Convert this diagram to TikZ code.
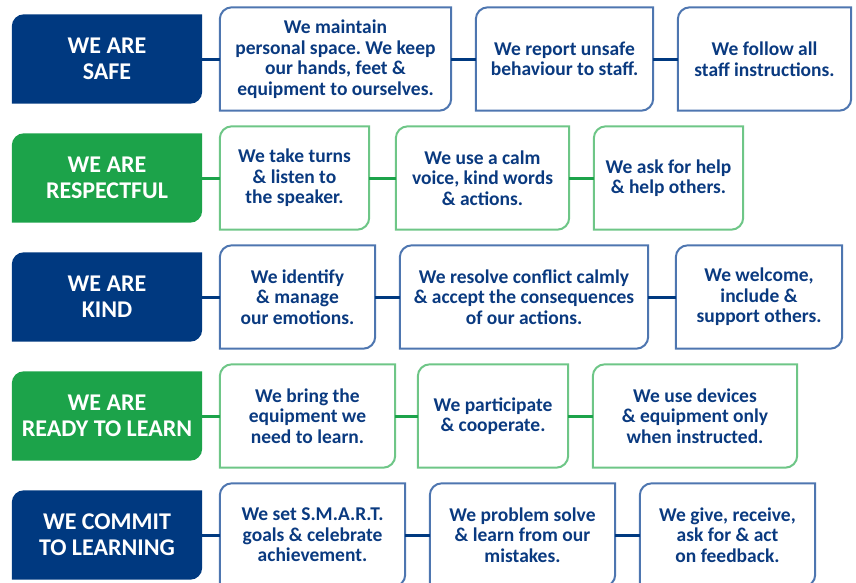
\documentclass[tikz,border=0pt]{standalone}
\usepackage{fontspec}
\setmainfont{Carlito}
\usetikzlibrary{backgrounds}
\frenchspacing

\definecolor{catblue}{RGB}{0,57,128}
\definecolor{catgreen}{RGB}{28,163,74}
\definecolor{lineblue}{RGB}{78,118,176}
\definecolor{linegreen}{RGB}{110,198,135}
\definecolor{textblue}{RGB}{10,58,128}

\tikzset{
	cat/.style={minimum width=190, minimum height=89, inner sep=0, text=white,
		align=center, font=\fontsize{24}{26}\selectfont\bfseries},
	stmt/.style={minimum height=103, inner sep=0, text=textblue,
		align=center, font=\fontsize{19.5}{20.5}\selectfont\bfseries}
}
% rounded top left and bottom right only
\newcommand{\cutshape}[1]{([yshift=-12pt]#1.north west) arc[start angle=180, end angle=90, radius=12pt]
	-- (#1.north east) -- ([yshift=12pt]#1.south east) arc[start angle=0, end angle=-90, radius=12pt]
	-- (#1.south west) -- cycle}

\begin{document}
\begin{tikzpicture}[x=1pt,y=1pt]
	\useasboundingbox (0,0) rectangle (856,-582);

	\begin{scope}[every node/.style={cat}]
		\node (safe) at (107,-59) {WE ARE\\SAFE};
		\node (resp) at (107,-178) {WE ARE\\RESPECTFUL};
		\node (kind) at (107,-297) {WE ARE\\KIND};
		\node (ready) at (107,-416) {WE ARE\\READY TO LEARN};
		\node (commit) at (107,-535) {WE COMMIT\\TO LEARNING};
	\end{scope}

	\begin{scope}[every node/.style={stmt}]
		\node[minimum width=231] (s1) at (335.5,-59) {We maintain\\personal space. We keep\\our hands, feet \&\\equipment to ourselves.};
		\node[minimum width=177] (s2) at (564.5,-59) {We report unsafe\\behaviour to staff.};
		\node[minimum width=173] (s3) at (764.5,-59) {We follow all\\staff instructions.};

		\node[minimum width=149] (r1) at (294.5,-178) {We take turns\\\& listen to\\the speaker.};
		\node[minimum width=173] (r2) at (482.5,-178) {We use a calm\\voice, kind words\\\& actions.};
		\node[minimum width=149] (r3) at (668.5,-178) {We ask for help\\\& help others.};

		\node[minimum width=155] (k1) at (297.5,-297) {We identify\\\& manage\\our emotions.};
		\node[minimum width=248] (k2) at (524,-297) {We resolve conflict calmly\\\& accept the consequences\\of our actions.};
		\node[minimum width=166] (k3) at (759,-297) {We welcome,\\include \&\\support others.};

		\node[minimum width=175] (d1) at (307.5,-416) {We bring the\\equipment we\\need to learn.};
		\node[minimum width=150] (d2) at (493,-416) {We participate\\\& cooperate.};
		\node[minimum width=204] (d3) at (695,-416) {We use devices\\\& equipment only\\when instructed.};

		\node[minimum width=185] (c1) at (312.5,-535) {We set S.M.A.R.T.\\goals \& celebrate\\achievement.};
		\node[minimum width=185] (c2) at (522.5,-535) {We problem solve\\\& learn from our\\mistakes.};
		\node[minimum width=175] (c3) at (727.5,-535) {We give, receive,\\ask for \& act\\on feedback.};
	\end{scope}

	\begin{scope}[on background layer]
		\foreach \n/\c in {safe/catblue, resp/catgreen, kind/catblue, ready/catgreen, commit/catblue}
			\fill[\c] \cutshape{\n};
		\foreach \n/\c in {s1/lineblue, s2/lineblue, s3/lineblue, r1/linegreen, r2/linegreen, r3/linegreen,
			k1/lineblue, k2/lineblue, k3/lineblue, d1/linegreen, d2/linegreen, d3/linegreen,
			c1/lineblue, c2/lineblue, c3/lineblue}
			\filldraw[fill=white, draw=\c, line width=2pt] \cutshape{\n};
	\end{scope}

	\begin{scope}[every edge/.style={draw=catblue, line width=3pt}]
		\path (safe) edge (s1) (s1) edge (s2) (s2) edge (s3);
		\path (kind) edge (k1) (k1) edge (k2) (k2) edge (k3);
		\path (commit) edge (c1) (c1) edge (c2) (c2) edge (c3);
	\end{scope}
	\begin{scope}[every edge/.style={draw=catgreen, line width=3pt}]
		\path (resp) edge (r1) (r1) edge (r2) (r2) edge (r3);
		\path (ready) edge (d1) (d1) edge (d2) (d2) edge (d3);
	\end{scope}
\end{tikzpicture}
\end{document}
